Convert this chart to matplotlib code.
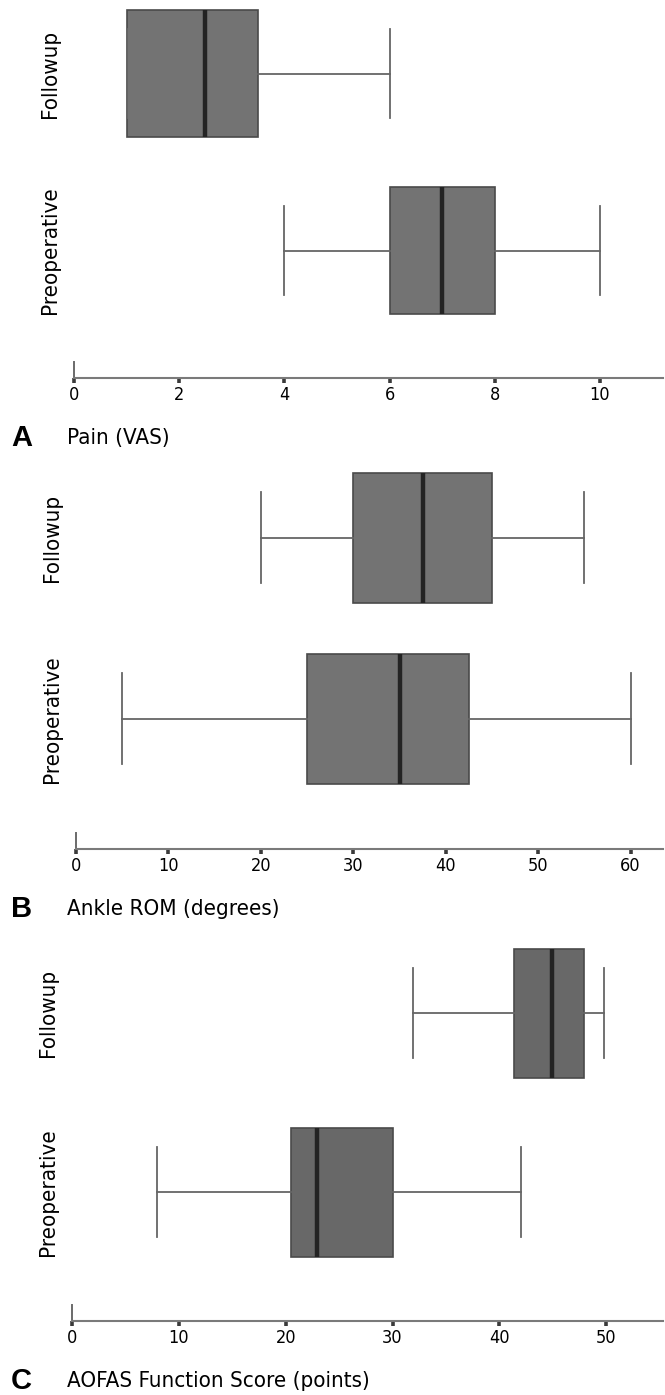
import matplotlib
matplotlib.use("Agg")
import matplotlib.pyplot as plt

plt.rcParams["font.family"] = ["DejaVu Sans"]
plt.rcParams["font.stretch"] = "condensed"

# values (box stats per group)
groups = ["Preoperative", "Followup"]

pain_q1 = [6.0, 1.0]
pain_med = [7.0, 2.5]
pain_q3 = [8.0, 3.5]
pain_lo = [4.0, 1.0]
pain_hi = [10.0, 6.0]

rom_q1 = [25.0, 30.0]
rom_med = [35.0, 37.5]
rom_q3 = [42.5, 45.0]
rom_lo = [5.0, 20.0]
rom_hi = [60.0, 55.0]

aofas_q1 = [20.5, 41.4]
aofas_med = [22.9, 44.9]
aofas_q3 = [30.0, 47.9]
aofas_lo = [8.0, 31.9]
aofas_hi = [42.0, 49.8]

pain_ticks = [0, 2, 4, 6, 8, 10]
rom_ticks = [0, 10, 20, 30, 40, 50, 60]
aofas_ticks = [0, 10, 20, 30, 40, 50]

W, H = 665, 1395
YLO, YHI = -0.72, 1.42


def stats(q1, med, q3, lo, hi):
    return [
        {"q1": a, "med": m, "q3": b, "whislo": l, "whishi": h, "fliers": []}
        for a, m, b, l, h in zip(q1, med, q3, lo, hi)
    ]


def panel(fig, left, right, bottom, unit, xmax, ticks, box_stats, face,
          letter, label):
    height = (YHI - YLO) * unit
    ax = fig.add_axes([left / W, 1 - bottom / H, (right - left) / W, height / H])
    ax.bxp(
        box_stats,
        positions=[0, 1],
        widths=0.72,
        capwidths=0.5,
        orientation="horizontal",
        patch_artist=True,
        showfliers=False,
        boxprops=dict(facecolor=face, edgecolor="#4a4a4a", linewidth=1.2),
        medianprops=dict(color="#232323", linewidth=3.2),
        whiskerprops=dict(color="#666666", linewidth=1.3),
        capprops=dict(color="#666666", linewidth=1.3),
    )
    ax.set_xlim(0, xmax)
    ax.set_ylim(YLO, YHI)
    ax.set_xticks(ticks)
    ax.set_xticklabels([str(t) for t in ticks], fontsize=13)
    ax.set_yticks([0, 1])
    ax.set_yticklabels(groups, fontsize=16, rotation=90, va="center")
    ax.tick_params(axis="y", length=0, pad=10)
    ax.tick_params(axis="x", direction="out", length=3.5, width=2.6,
                   color="#3a3a3a", pad=2)
    for side in ("top", "right"):
        ax.spines[side].set_visible(False)
    ax.spines["bottom"].set_color("#7a7a7a")
    ax.spines["bottom"].set_linewidth(1.5)
    ax.spines["left"].set_color("#6a6a6a")
    ax.spines["left"].set_linewidth(1.4)
    ax.spines["left"].set_bounds(YLO, YLO + 16 / unit)
    ax.set_facecolor("none")

    y = 1 - (bottom + 60) / H
    fig.text(11 / W, y, letter, fontsize=21, fontweight="bold",
             fontstretch="normal", family=["Liberation Sans", "DejaVu Sans"],
             ha="left", va="center")
    fig.text(67 / W, y, label, fontsize=16, ha="left", va="center")
    return ax


fig = plt.figure(figsize=(W / 100, H / 100), dpi=100)

panel(fig, 74, 663, 378, 177, 11.2, pain_ticks,
      stats(pain_q1, pain_med, pain_q3, pain_lo, pain_hi), "#737373",
      "A", "Pain (VAS)")
panel(fig, 76, 663, 849, 181, 63.5, rom_ticks,
      stats(rom_q1, rom_med, rom_q3, rom_lo, rom_hi), "#737373",
      "B", "Ankle ROM (degrees)")
panel(fig, 72, 663, 1321, 179, 55.3, aofas_ticks,
      stats(aofas_q1, aofas_med, aofas_q3, aofas_lo, aofas_hi), "#686868",
      "C", "AOFAS Function Score (points)")

fig.savefig("out.png", dpi=100)
